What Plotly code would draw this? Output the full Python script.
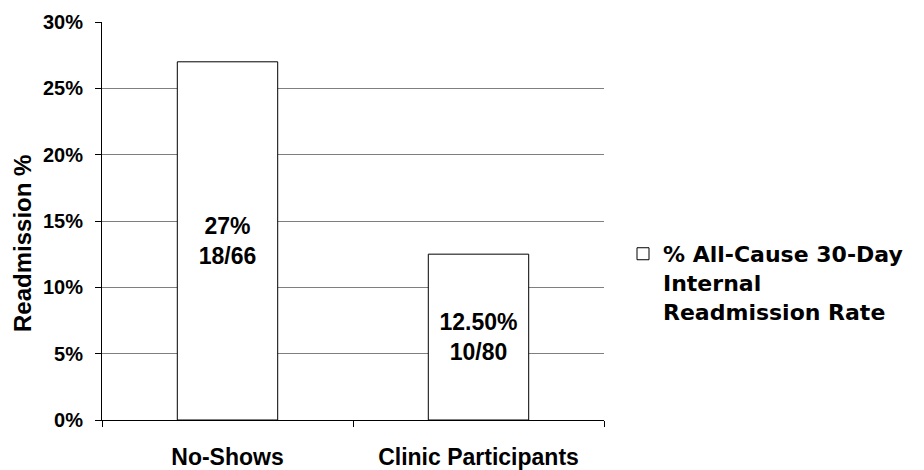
import plotly.graph_objects as go

# Chart data
categories = ["No-Shows", "Clinic Participants"]
readmission_pct = [27, 12.5]
pct_labels = ["27%", "12.50%"]
count_labels = ["18/66", "10/80"]
series_name = "% All-Cause 30-Day<br>Internal<br>Readmission Rate"
y_title = "Readmission %"
y_ticks = [0, 5, 10, 15, 20, 25, 30]

FONT = "Liberation Sans, Arial, sans-serif"
LEGEND_FONT = "DejaVu Sans, Liberation Sans, sans-serif"

# plot area in pixels (924 x 470 canvas)
M_L, M_R, M_T, M_B = 102, 320, 22, 50
PLOT_W = 924 - M_L - M_R
PLOT_H = 470 - M_T - M_B

bar_text = [f"{p}<br>{c}" for p, c in zip(pct_labels, count_labels)]

fig = go.Figure()
fig.add_trace(go.Bar(
    x=categories,
    y=readmission_pct,
    name=series_name,
    text=bar_text,
    textposition="inside",
    insidetextanchor="middle",
    textangle=0,
    textfont=dict(family=FONT, size=23, color="black", weight="bold"),
    marker=dict(color="white", line=dict(color="black", width=1)),
    showlegend=True,
    hoverinfo="skip",
))

fig.update_layout(
    width=924,
    height=470,
    margin=dict(l=M_L, r=M_R, t=M_T, b=M_B),
    paper_bgcolor="white",
    plot_bgcolor="white",
    bargap=0.6,
    font=dict(family=FONT, color="black"),
    showlegend=True,
    legend=dict(
        x=(623 - M_L) / PLOT_W,
        xanchor="left",
        y=0.47,
        yanchor="top",
        valign="top",
        font=dict(family=LEGEND_FONT, size=22, color="black", weight="bold"),
        bgcolor="rgba(0,0,0,0)",
    ),
    annotations=[dict(
        text=y_title,
        textangle=-90,
        xref="paper", yref="paper",
        x=(22 - M_L) / PLOT_W,
        y=(M_T + PLOT_H - 244) / PLOT_H,
        xanchor="center", yanchor="middle",
        showarrow=False,
        font=dict(family=FONT, size=24, color="black", weight="bold"),
    )],
)

fig.update_xaxes(
    automargin=False,
    showline=True,
    linecolor="black",
    linewidth=1,
    ticks="outside",
    tickson="boundaries",
    ticklen=6,
    tickcolor="black",
    showgrid=False,
    ticklabelstandoff=16,
    tickfont=dict(family=FONT, size=23, color="black", weight="bold"),
)

fig.update_yaxes(
    automargin=False,
    range=[0, 30],
    tickvals=y_ticks,
    ticktext=[f"{v}%" for v in y_ticks],
    showline=True,
    linecolor="black",
    linewidth=1,
    ticks="outside",
    ticklen=6,
    tickcolor="black",
    showgrid=True,
    gridcolor="#7f7f7f",
    gridwidth=1,
    zeroline=False,
    ticklabelstandoff=8,
    tickfont=dict(family=FONT, size=20, color="black", weight="bold"),
)

fig.write_html("out.html")
